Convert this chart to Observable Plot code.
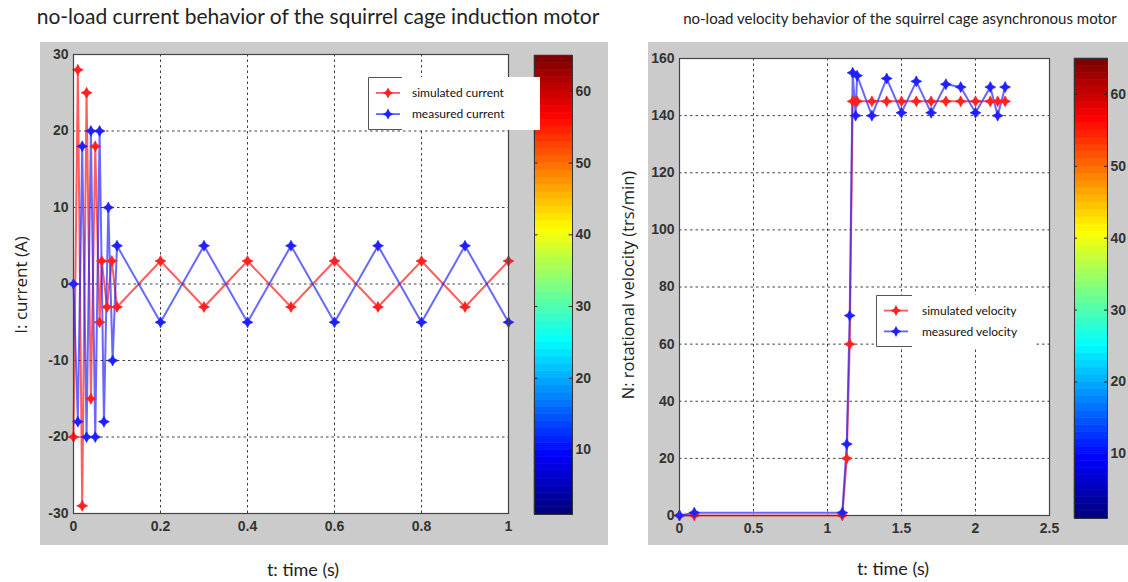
<!DOCTYPE html>
<html><head><meta charset="utf-8">
<script src="https://cdn.jsdelivr.net/npm/d3@7"></script>
<script src="https://cdn.jsdelivr.net/npm/@observablehq/plot@0.6"></script>
<style>
body{margin:0;background:#fff;}
#root{position:relative;width:1128px;height:582px;overflow:hidden;font-family:Lato,sans-serif;color:#222;}
.gray{position:absolute;background:#cbcbcb;}
.title{position:absolute;white-space:nowrap;transform:translateX(-50%);color:#222;}
.ylab{position:absolute;white-space:nowrap;transform:translate(-50%,-50%) rotate(-90deg);font-family:"Open Sans",sans-serif;color:#222;}
.leg{position:absolute;background:#fff;font-family:Lato,sans-serif;font-size:12px;color:#111;}
</style></head><body><div id="root"></div>
<script>
// ---------- data ----------
const simCurrentT = [0,0.01,0.02,0.03,0.04,0.05,0.06,0.065,0.077,0.088,0.1,0.2,0.3,0.4,0.5,0.6,0.7,0.8,0.9,1.0];
const simCurrent  = [-20,28,-29,25,-15,18,-5,3,-3,3,-3,3,-3,3,-3,3,-3,3,-3,3];
const measCurrentT = [0,0.01,0.02,0.03,0.04,0.05,0.06,0.07,0.08,0.09,0.1,0.2,0.3,0.4,0.5,0.6,0.7,0.8,0.9,1.0];
const measCurrent  = [0,-18,18,-20,20,-20,20,-18,10,-10,5,-5,5,-5,5,-5,5,-5,5,-5];

const velT = [0,0.1,1.1,1.13,1.15,1.17,1.19,1.2,1.3,1.4,1.5,1.6,1.7,1.8,1.9,2.0,2.1,2.15,2.2];
const simVelocity  = [0,0,0,20,60,145,145,145,145,145,145,145,145,145,145,145,145,145,145];
const measVelocity = [0,1,1,25,70,155,140,154,140,153,141,152,141,151,150,141,150,140,150];

const currentTicksX = [0,0.2,0.4,0.6,0.8,1];
const currentTicksY = [-30,-20,-10,0,10,20,30];
const velTicksX = [0,0.5,1,1.5,2,2.5];
const velTicksY = [0,20,40,60,80,100,120,140,160];
const colorbarTicks = [10,20,30,40,50,60];
const colorLevels = d3.range(1,65);

const titles = ["no-load current behavior of the squirrel cage induction motor",
                "no-load velocity behavior of the squirrel cage asynchronous motor"];
const seriesNames = [["simulated current","measured current"],["simulated velocity","measured velocity"]];

// ---------- helpers ----------
const RED = "#ff2020", BLUE = "#2020ff";
const star4 = {draw(ctx, size){const r=Math.sqrt(size/Math.PI), w=r*0.35;
  ctx.moveTo(0,-r);ctx.lineTo(w,-w);ctx.lineTo(r,0);ctx.lineTo(w,w);ctx.lineTo(0,r);ctx.lineTo(-w,w);ctx.lineTo(-r,0);ctx.lineTo(-w,-w);ctx.closePath();}};
function jet(i){const v=(i-1)/63;const c=x=>Math.round(255*Math.max(0,Math.min(1,x)));
  return `rgb(${c(1.5-Math.abs(4*v-3))},${c(1.5-Math.abs(4*v-2))},${c(1.5-Math.abs(4*v-1))})`;}
const zip = (t,v)=>t.map((d,i)=>({t:d,v:v[i]}));
const tickFont = {fontFamily:'"Liberation Sans Narrow","Liberation Sans",Arial,sans-serif',fontSize:"14px",fontWeight:"bold",color:"#333",background:"transparent",overflow:"visible"};
const root = document.getElementById("root");
function place(el,x,y){el.style.position="absolute";el.style.left=x+"px";el.style.top=y+"px";root.appendChild(el);return el;}
function div(cls,x,y,w,h,html){const d=document.createElement("div");d.className=cls;d.style.left=x+"px";d.style.top=y+"px";if(w!=null)d.style.width=w+"px";if(h!=null)d.style.height=h+"px";if(html!=null)d.innerHTML=html;root.appendChild(d);return d;}

function mainPlot(o){
  const sim=zip(o.simT,o.sim), meas=zip(o.measT,o.meas);
  return Plot.plot({
    width:o.w,height:o.h,marginLeft:o.ml,marginRight:o.mr,marginTop:o.mt,marginBottom:o.mb,
    style:tickFont,
    x:{domain:o.xd,ticks:o.xt,label:null},
    y:{domain:o.yd,ticks:o.yt,label:null},
    marks:[
      Plot.frame({fill:"white"}),
      Plot.gridX(o.xt.slice(1,-1),{stroke:"#000",strokeOpacity:0.75,strokeDasharray:"2.5,3"}),
      Plot.gridY(o.yt.slice(1,-1),{stroke:"#000",strokeOpacity:0.75,strokeDasharray:"2.5,3"}),
      Plot.line(sim,{x:"t",y:"v",stroke:RED,strokeOpacity:0.72,strokeWidth:2}),
      Plot.line(meas,{x:"t",y:"v",stroke:BLUE,strokeOpacity:0.68,strokeWidth:2}),
      Plot.dot(sim,{x:"t",y:"v",symbol:star4,r:5.5,fill:RED,stroke:RED,strokeWidth:0.6}),
      Plot.dot(meas,{x:"t",y:"v",symbol:star4,r:5.5,fill:BLUE,stroke:BLUE,strokeWidth:0.6}),
      Plot.frame({stroke:"#444",strokeWidth:1.2}),
      Plot.axisX(o.xt,{tickSize:0,tickPadding:8,fontWeight:"bold",tickFormat:d=>String(d)}),
      Plot.axisY(o.yt,{tickSize:0,tickPadding:5,fontWeight:"bold",tickFormat:d=>String(d)})
    ]
  });
}
function colorbar(o){
  const cells=colorLevels.map(i=>({lo:i,hi:i+1,c:jet(i)}));
  return Plot.plot({
    width:o.w,height:o.h,marginLeft:o.ml,marginRight:o.mr,marginTop:o.mt,marginBottom:o.mb,
    style:tickFont,
    x:{domain:[0,1],axis:null},
    y:{domain:[1,65],label:null},
    color:{type:"identity"},
    marks:[
      Plot.rect(cells,{x1:0,x2:1,y1:"lo",y2:"hi",fill:"c",stroke:"c",strokeWidth:0.5}),
      Plot.ruleY(colorbarTicks,{x1:0,x2:0.09,stroke:"#222"}),
      Plot.ruleY(colorbarTicks,{x1:0.91,x2:1,stroke:"#222"}),
      Plot.frame({stroke:"#333"}),
      Plot.axisY(colorbarTicks,{anchor:"right",tickSize:0,tickPadding:3,fontWeight:"bold",tickFormat:d=>String(d)})
    ]
  });
}
function legend(x,y,w,h,names,bracketW){
  const d=div("leg",x,y,w,h);
  const svg=d3.create("svg").attr("width",w).attr("height",h).style("position","absolute").style("left","0").style("top","0");
  svg.append("path").attr("d",`M${bracketW},0.5H0.5V${h-0.5}H${bracketW}`).attr("fill","none").attr("stroke","#555");
  const rows=[h*0.3,h*0.7];
  [[RED,0.75],[BLUE,0.7]].forEach(([c,op],i)=>{
    svg.append("line").attr("x1",8).attr("x2",32).attr("y1",rows[i]).attr("y2",rows[i]).attr("stroke",c).attr("stroke-opacity",op).attr("stroke-width",1.8);
    svg.append("path").attr("transform",`translate(20,${rows[i]})`).attr("d",d3.symbol(star4,Math.PI*5.5*5.5)()).attr("fill",c);
    svg.append("text").attr("x",bracketW+10).attr("y",rows[i]).attr("dy","0.35em").attr("font-family","Lato,sans-serif").attr("font-size",12).attr("fill","#111").text(names[i]);
  });
  d.appendChild(svg.node());
}

// ---------- layout ----------
div("gray",40,42,568,503);
div("gray",648,42,480,503);

place(mainPlot({simT:simCurrentT,sim:simCurrent,measT:measCurrentT,meas:measCurrent,
  w:480,h:503,ml:33,mr:12,mt:12,mb:32,xd:[0,1],yd:[-30,30],xt:currentTicksX,yt:currentTicksY}),40,42);
place(colorbar({w:80,h:503,ml:14,mr:28,mt:13,mb:31}),520,42);

place(mainPlot({simT:velT,sim:simVelocity,measT:velT,meas:measVelocity,
  w:420,h:503,ml:31,mr:19,mt:16,mb:30,xd:[0,2.5],yd:[0,160],xt:velTicksX,yt:velTicksY}),648,42);
place(colorbar({w:68,h:503,ml:14,mr:21,mt:16,mb:27}),1060,42);

legend(368,77,172,53,seriesNames[0],34);
legend(876,295,160,52,seriesNames[1],36);

const t1=div("title",318,3,null,null,titles[0]); t1.style.fontSize="21px";
const t2=div("title",900,9,null,null,titles[1]); t2.style.fontSize="15px";
const x1=div("title",303,558,null,null,"t: time (s)"); x1.style.fontSize="18px";
const x2=div("title",893,557,null,null,"t: time (s)"); x2.style.fontSize="18px";
const y1=div("ylab",20,285,null,null,"I: current (A)"); y1.style.fontSize="17px";
const y2=div("ylab",627,285,null,null,"N: rotational velocity (trs/min)"); y2.style.fontSize="16.5px";
</script></body></html>
